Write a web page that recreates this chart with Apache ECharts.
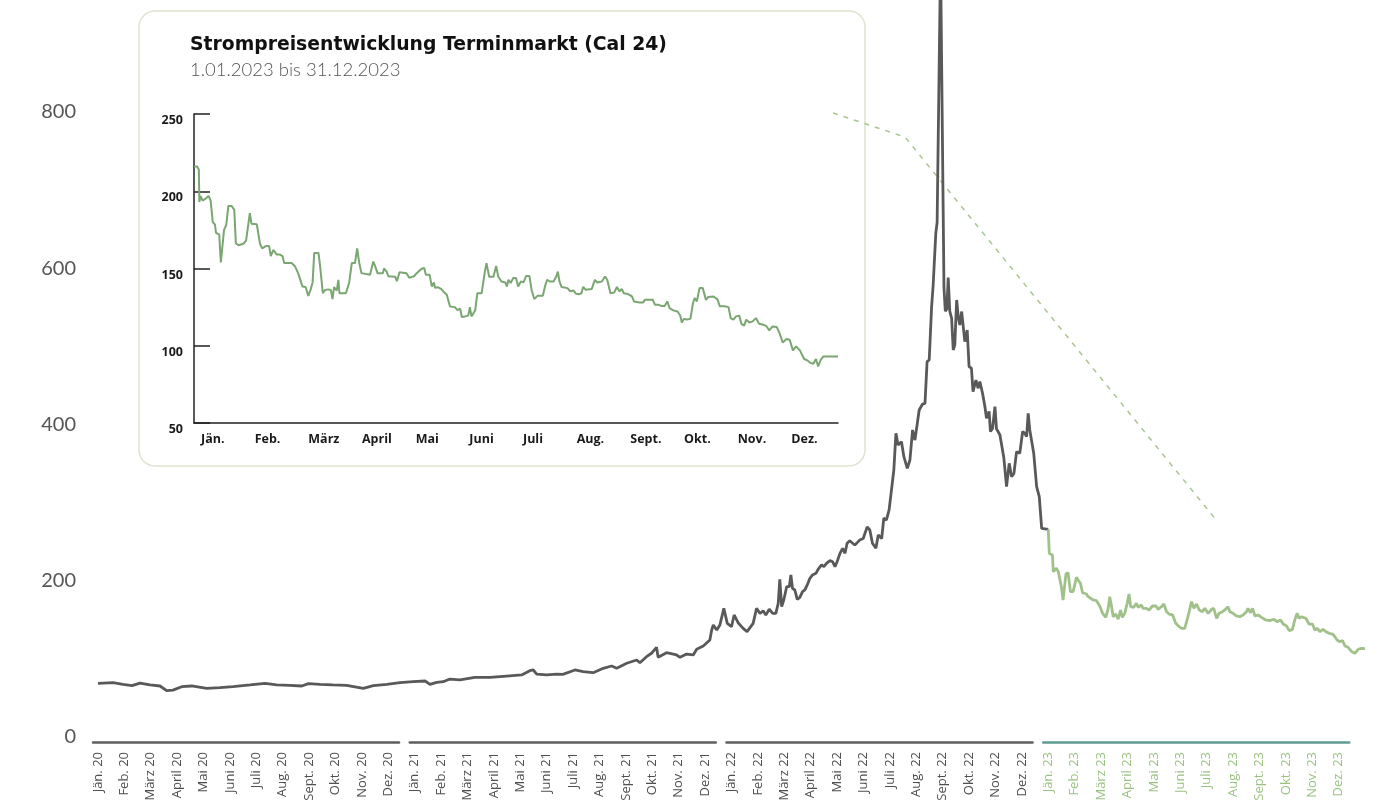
<!DOCTYPE html>
<html>
<head>
<meta charset="utf-8">
<script src="https://cdn.jsdelivr.net/npm/echarts@6/dist/echarts.min.js"></script>
<style>
  html, body { margin: 0; padding: 0; background: #fff; }
  #chart { width: 1380px; height: 801px; }
</style>
</head>
<body>
<div id="chart"></div>
<script>
// Monatsnamen / Jahre für die Achsen
const monthNames = ["Jän.", "Feb.", "März", "April", "Mai", "Juni", "Juli", "Aug.", "Sept.", "Okt.", "Nov.", "Dez."];
const yearLabels = ["20", "21", "22", "23"];
const mainTicks = [0, 200, 400, 600, 800];
const insetTicks = [50, 100, 150, 200, 250];

// [Monat ab Jän. 2020, Preis €/MWh]
const prices2020 = [[0, 68.7], [0.57, 69.5], [0.95, 67.4], [1.29, 65.7], [1.59, 69], [1.97, 66.6], [2.35, 65.3], [2.6, 59.3], [2.84, 60], [3.17, 64.4], [3.55, 65.3], [4.12, 62.3], [4.62, 63.1], [5.11, 64.4], [5.76, 66.6], [6.33, 68.7], [6.77, 66.6], [7.27, 66.2], [7.72, 65.3], [7.97, 68.3], [8.41, 67.4], [8.9, 66.6], [9.42, 66.2], [10.05, 62.3], [10.43, 65.7], [10.94, 67.4], [11.44, 69.5], [11.94, 70.8]];
const prices2021 = [[12.39, 71.7], [12.58, 67.4], [12.83, 70], [13.08, 70.8], [13.33, 74.2], [13.71, 73], [14.28, 76.4], [14.85, 76.4], [15.48, 78], [16.05, 79.4], [16.36, 84.9], [16.49, 85.8], [16.62, 80.6], [17, 79.4], [17.38, 80.6], [17.61, 80.2], [18.07, 85.8], [18.38, 83.6], [18.76, 82.3], [19.14, 87.9], [19.46, 90.9], [19.65, 87.9], [20.03, 94.4], [20.41, 98.6], [20.53, 95.1], [20.78, 102.8], [20.97, 107.2], [21.16, 114.8], [21.22, 102], [21.54, 107.9], [21.92, 105], [22.05, 102], [22.3, 106.2], [22.55, 105], [22.68, 112.3], [22.93, 116.5], [23.18, 124.2], [23.25, 137], [23.31, 143.4], [23.44, 137], [23.56, 143.4], [23.71, 164.7], [23.84, 145.5]];
const prices2022 = [[24, 141.2], [24.1, 156.2], [24.25, 146.3], [24.44, 139.1], [24.59, 134.8], [24.82, 145.5], [24.95, 164.7], [25.08, 158], [25.2, 161.7], [25.3, 156], [25.43, 163.5], [25.56, 158.3], [25.68, 158.3], [25.77, 171.1], [25.83, 201.8], [25.9, 166.8], [25.98, 175.4], [26.09, 192.4], [26.19, 192.4], [26.25, 207.4], [26.31, 190.3], [26.4, 188.2], [26.49, 176.2], [26.59, 178.8], [26.69, 186], [26.78, 188.2], [26.87, 194.6], [26.97, 203.1], [27.07, 207.4], [27.2, 209.5], [27.28, 214.6], [27.41, 220.2], [27.5, 218], [27.6, 222.3], [27.73, 225.7], [27.83, 224.4], [27.92, 218], [28, 224.4], [28.11, 235.1], [28.21, 241.5], [28.3, 235.1], [28.38, 248], [28.48, 251.3], [28.59, 248], [28.67, 245.8], [28.76, 248.8], [28.86, 252.2], [28.99, 254], [29.14, 269], [29.24, 265], [29.34, 248], [29.47, 241.5], [29.56, 258.6], [29.69, 254], [29.77, 280], [29.87, 277.8], [29.97, 290.6], [30.06, 316], [30.15, 341.8], [30.23, 388.7], [30.31, 373.8], [30.44, 378], [30.53, 358.8], [30.66, 343.9], [30.76, 354.6], [30.86, 393], [30.95, 380], [31.01, 382.4], [31.11, 418.6], [31.24, 426.2], [31.33, 427], [31.41, 480.5], [31.49, 482.6], [31.58, 550], [31.64, 578.6], [31.74, 645], [31.79, 658.6], [31.92, 995], [32.05, 575], [32.1, 545], [32.16, 548], [32.21, 588], [32.27, 545], [32.34, 536], [32.4, 495.4], [32.46, 501.8], [32.53, 559.4], [32.59, 538], [32.65, 527.4], [32.72, 544.6], [32.78, 525.2], [32.84, 506], [32.93, 521], [33, 474], [33.09, 472], [33.15, 442], [33.26, 457], [33.34, 446.4], [33.41, 455], [33.51, 440], [33.6, 423], [33.66, 408], [33.76, 416.8], [33.81, 391], [33.89, 395], [33.98, 423], [34.04, 394.2], [34.1, 391], [34.17, 386.6], [34.23, 388.7], [34.32, 356.7], [34.42, 320.4], [34.52, 350.3], [34.61, 333.2], [34.7, 337.5], [34.8, 365.2], [34.92, 363.1], [35.03, 391], [35.11, 388.7], [35.18, 384.4], [35.24, 414.3], [35.3, 393], [35.37, 391], [35.45, 363.1], [35.56, 320.4], [35.66, 307.6], [35.75, 267], [36, 265.7]];
const prices2023 = [[36, 265.7], [36.04, 235], [36.16, 233], [36.19, 211.6], [36.31, 216], [36.38, 211.6], [36.5, 191.6], [36.56, 175.4], [36.67, 208.6], [36.75, 210.3], [36.84, 186], [36.94, 186], [37.07, 204.4], [37.13, 201], [37.22, 196.7], [37.3, 184.7], [37.45, 183], [37.51, 179.6], [37.58, 181.8], [37.7, 175.4], [37.83, 174.5], [37.95, 167.7], [38.06, 158.3], [38.18, 153.2], [38.27, 164.7], [38.33, 179.6], [38.4, 166.8], [38.46, 154], [38.56, 157.4], [38.65, 150.7], [38.74, 162.6], [38.81, 153.2], [38.9, 158.3], [38.99, 171.1], [39.06, 183], [39.12, 166.8], [39.24, 166], [39.34, 171.1], [39.41, 166], [39.53, 169], [39.59, 164.7], [39.72, 164.7], [39.82, 162.6], [39.95, 167.7], [40.08, 167.7], [40.16, 163.5], [40.29, 166.8], [40.38, 170.2], [40.48, 160.4], [40.58, 157.4], [40.71, 156.2], [40.83, 145.5], [40.96, 141.2], [41.05, 139.1], [41.17, 139.1], [41.26, 149.8], [41.34, 160.4], [41.43, 173.2], [41.52, 164.7], [41.62, 170.2], [41.72, 162.6], [41.84, 160.4], [41.93, 164.7], [42.06, 158.3], [42.19, 163.5], [42.27, 164.7], [42.38, 151.9], [42.47, 158.3], [42.6, 160.4], [42.69, 162.6], [42.81, 166.8], [42.88, 160.4], [43, 158.3], [43.13, 154.9], [43.26, 154], [43.38, 156.2], [43.51, 160.4], [43.57, 164.7], [43.66, 159.1], [43.74, 164.7], [43.83, 154.9], [43.95, 156.2], [44.08, 153.2], [44.24, 149.8], [44.39, 148.9], [44.55, 150.7], [44.67, 147.6], [44.8, 149.8], [44.9, 144.6], [45.03, 142.1], [45.13, 136.1], [45.25, 137.8], [45.34, 149.8], [45.43, 158.3], [45.5, 151.9], [45.59, 154], [45.76, 151.9], [45.88, 144.6], [46.01, 144.6], [46.1, 137], [46.19, 139.1], [46.29, 134.8], [46.41, 137.8], [46.52, 134.8], [46.64, 132.7], [46.77, 131.8], [46.86, 128.4], [46.94, 124.2], [47.05, 122], [47.15, 123.3], [47.24, 116.5], [47.36, 114.8], [47.5, 109.2], [47.62, 107.1], [47.74, 112.3], [47.87, 113.5], [48, 113]];

// Terminmarkt Cal 24, [Monat in 2023, Preis]
const cal24 = [[0, 216], [0.06, 216], [0.09, 214], [0.1, 193], [0.12, 197], [0.16, 194], [0.21, 195], [0.27, 197], [0.31, 194], [0.35, 180], [0.39, 178.5], [0.41, 173], [0.47, 172], [0.5, 154], [0.56, 175], [0.6, 178], [0.64, 190.5], [0.7, 190.5], [0.75, 188], [0.78, 166.4], [0.83, 165], [0.86, 166], [0.92, 166], [0.97, 168], [1.01, 178], [1.04, 185.8], [1.07, 179], [1.17, 178.6], [1.23, 166], [1.27, 163], [1.34, 164.5], [1.4, 164.5], [1.43, 158], [1.48, 162], [1.54, 159], [1.6, 159], [1.65, 158], [1.68, 153.5], [1.82, 153.5], [1.88, 151.5], [1.94, 147], [2.02, 138.4], [2.08, 138], [2.13, 132.3], [2.17, 136], [2.21, 141], [2.24, 160], [2.32, 160], [2.35, 151.5], [2.4, 134], [2.44, 136], [2.5, 136.5], [2.55, 136], [2.58, 130.2], [2.61, 138], [2.66, 135.7], [2.69, 142.7], [2.71, 134], [2.83, 134], [2.89, 140.6], [2.94, 153.5], [3, 153.5], [3.04, 163], [3.08, 153.5], [3.12, 147], [3.28, 146], [3.34, 154.5], [3.37, 152], [3.42, 147], [3.52, 147], [3.54, 150], [3.59, 148], [3.62, 145], [3.75, 144.6], [3.78, 141.8], [3.83, 147.6], [3.96, 147], [4.01, 144], [4.06, 144.6], [4.1, 145], [4.15, 147], [4.24, 149.8], [4.29, 150.3], [4.32, 146], [4.39, 146], [4.43, 138.4], [4.47, 141], [4.49, 137.5], [4.55, 137.8], [4.61, 136.7], [4.66, 134.6], [4.71, 133], [4.77, 125.4], [4.86, 125], [4.91, 123], [4.96, 124], [4.99, 118.6], [5.05, 119], [5.11, 119.5], [5.14, 125], [5.17, 119], [5.24, 123], [5.28, 134], [5.36, 134], [5.42, 148], [5.45, 153.5], [5.5, 144.7], [5.58, 144.7], [5.63, 151.7], [5.67, 144.7], [5.73, 141.6], [5.8, 141], [5.83, 138.4], [5.86, 142.7], [5.9, 140.6], [5.95, 143.8], [6, 143.8], [6.04, 138.4], [6.09, 141.6], [6.14, 141], [6.19, 145.2], [6.25, 145.2], [6.29, 136.3], [6.34, 130.2], [6.4, 132.3], [6.5, 132.3], [6.54, 138.4], [6.58, 142.7], [6.63, 141.6], [6.7, 141.6], [6.75, 144.8], [6.78, 148], [6.81, 141.6], [6.85, 138], [6.96, 137.3], [7.01, 135.2], [7.07, 135.8], [7.12, 133.6], [7.18, 133.4], [7.22, 134], [7.25, 138], [7.3, 136.3], [7.41, 136.7], [7.47, 142.7], [7.51, 141], [7.6, 141.6], [7.66, 144.8], [7.7, 142.7], [7.76, 134], [7.83, 134.4], [7.88, 138], [7.93, 135.2], [7.97, 136.7], [8.01, 134], [8.09, 133.4], [8.16, 131.9], [8.2, 128.7], [8.3, 128], [8.37, 128], [8.4, 129.7], [8.55, 129.7], [8.59, 126.5], [8.65, 126.5], [8.71, 125.8], [8.77, 125.8], [8.82, 128.7], [8.86, 124.4], [8.93, 122.9], [9.01, 122.2], [9.06, 119.6], [9.09, 115], [9.13, 117.4], [9.18, 117], [9.25, 117.4], [9.3, 128], [9.33, 130.8], [9.37, 128.7], [9.42, 137.3], [9.48, 137.3], [9.54, 129.7], [9.58, 131.5], [9.68, 131.9], [9.75, 130.2], [9.8, 125.5], [9.89, 125.5], [9.96, 125], [10, 117.9], [10.05, 116.9], [10.1, 119], [10.16, 119.5], [10.2, 114.2], [10.25, 113], [10.29, 116.9], [10.35, 115], [10.41, 115.8], [10.47, 117.9], [10.53, 114.2], [10.61, 113.6], [10.67, 112.5], [10.72, 109.9], [10.78, 112.5], [10.86, 112.1], [10.91, 108.2], [10.97, 102.1], [11.04, 104.3], [11.1, 103.9], [11.16, 97], [11.22, 99.6], [11.29, 97], [11.32, 96.3], [11.37, 91.4], [11.43, 90.5], [11.49, 88.8], [11.54, 88.4], [11.59, 91.4], [11.63, 86.6], [11.68, 91], [11.73, 93.1], [12, 93.1]];

const GRAY = "#595959";
const GREEN = "#a0c189";
const INSET_GREEN = "#79a671";
const TEAL = "#5f9c93";
const FONT = "Lato";
const FONT_WIDE = "Open Sans";

const chartEl = document.getElementById("chart");
const mChart = echarts.init(chartEl);

const plotLeft = 98;
const plotRight = 15;
const monthW = (1380 - plotLeft - plotRight) / 48;

// Jahres-Achsenstücke unten
const yearGrids = yearLabels.map((y, i) => ({
  left: plotLeft + monthW * 12 * i - 5,
  width: 306,
  bottom: 59,
  height: 2,
  outerBoundsMode: "none",
}));

const options = {
  animation: false,
  backgroundColor: "#fff",
  title: {
    text: "Strompreisentwicklung Terminmarkt (Cal 24)",
    subtext: "1.01.2023 bis 31.12.2023",
    left: 190,
    top: 36,
    padding: 0,
    itemGap: 6,
    textStyle: { fontFamily: "DejaVu Sans", fontSize: 18.8, fontWeight: "bold", color: "#111" },
    subtextStyle: { fontFamily: FONT, fontSize: 18.5, fontWeight: 300, color: "#555" },
  },
  graphic: [
    {
      type: "rect",
      z: -10,
      shape: { x: 139, y: 11, width: 726, height: 455, r: 16 },
      style: { fill: "rgba(0,0,0,0)", stroke: "#dde4d0", lineWidth: 1.5 },
    },
    {
      // gestrichelte Verbindung zum Ausschnitt
      type: "polyline",
      shape: { points: [[833, 113], [905, 137], [1217, 521]] },
      style: { fill: null, stroke: "#a9c691", lineWidth: 1.5, lineDash: [5, 6] },
    },
  ],
  grid: [
    { left: plotLeft, right: plotRight, top: 0, bottom: 64, outerBoundsMode: "none" },
    { left: 194, top: 114, width: 644, height: 309, outerBoundsMode: "none" },
    ...yearGrids,
  ],
  xAxis: [
    {
      gridIndex: 0,
      type: "value",
      min: 0,
      max: 48,
      interval: 1,
      axisLine: { show: false },
      axisTick: { show: false },
      splitLine: { show: false },
      axisLabel: {
        rotate: 90,
        margin: 15,
        fontFamily: FONT_WIDE,
        fontSize: 13,
        fontWeight: 500,
        color: (v) => (Number(v) >= 36 ? "#9cc283" : "#4f4f4f"),
        showMaxLabel: false,
        formatter: (v) => (v >= 48 ? "" : monthNames[v % 12] + " " + yearLabels[Math.floor(v / 12)]),
      },
    },
    {
      gridIndex: 1,
      type: "value",
      min: 0,
      max: 12,
      interval: 1,
      axisLine: { show: true, lineStyle: { color: "#222", width: 1.5 } },
      axisTick: { show: false },
      splitLine: { show: false },
      axisLabel: {
        margin: 10,
        align: "left",
        padding: [0, 0, 0, 7],
        fontFamily: FONT_WIDE,
        fontSize: 12.5,
        fontWeight: "bold",
        color: "#1a1a1a",
        showMaxLabel: false,
        formatter: (v) => (v >= 12 ? "" : monthNames[v]),
      },
    },
    ...yearGrids.map((g, i) => ({
      gridIndex: i + 2,
      type: "value",
      min: 0,
      max: 1,
      axisLine: { show: true, lineStyle: { color: i === 3 ? TEAL : "#5f5f5f", width: 2.5 } },
      axisTick: { show: false },
      axisLabel: { show: false },
      splitLine: { show: false },
    })),
  ],
  yAxis: [
    {
      gridIndex: 0,
      type: "value",
      min: 0,
      max: 943.4,
      interval: 200,
      axisLine: { show: false },
      axisTick: { show: false },
      splitLine: { show: false },
      axisLabel: {
        margin: 22,
        fontFamily: FONT,
        fontSize: 20,
        color: "#555",
        formatter: (v) => (mainTicks.includes(v) ? String(v) : ""),
      },
    },
    {
      gridIndex: 1,
      type: "value",
      min: 50,
      max: 250,
      interval: 50,
      axisLine: { show: true, lineStyle: { color: "#222", width: 1.5 } },
      axisTick: { show: true, inside: true, length: 16, lineStyle: { color: "#222", width: 1.5 } },
      splitLine: { show: false },
      axisLabel: {
        margin: 11,
        verticalAlign: "top",
        fontFamily: FONT_WIDE,
        fontSize: 12.5,
        fontWeight: "bold",
        color: "#1a1a1a",
        formatter: (v) => (insetTicks.includes(v) ? String(v) : ""),
      },
    },
    ...yearGrids.map((g, i) => ({ gridIndex: i + 2, type: "value", show: false, min: 0, max: 1 })),
  ],
  series: [
    {
      type: "line",
      xAxisIndex: 0,
      yAxisIndex: 0,
      data: prices2020.concat(prices2021, prices2022),
      showSymbol: false,
      lineStyle: { color: GRAY, width: 2.8 },
      z: 3,
    },
    {
      type: "line",
      xAxisIndex: 0,
      yAxisIndex: 0,
      data: prices2023,
      showSymbol: false,
      lineStyle: { color: GREEN, width: 2.8 },
      z: 3,
    },
    {
      type: "line",
      xAxisIndex: 1,
      yAxisIndex: 1,
      data: cal24,
      showSymbol: false,
      lineStyle: { color: INSET_GREEN, width: 2 },
    },
  ],
};

mChart.setOption(options);
</script>
</body>
</html>
